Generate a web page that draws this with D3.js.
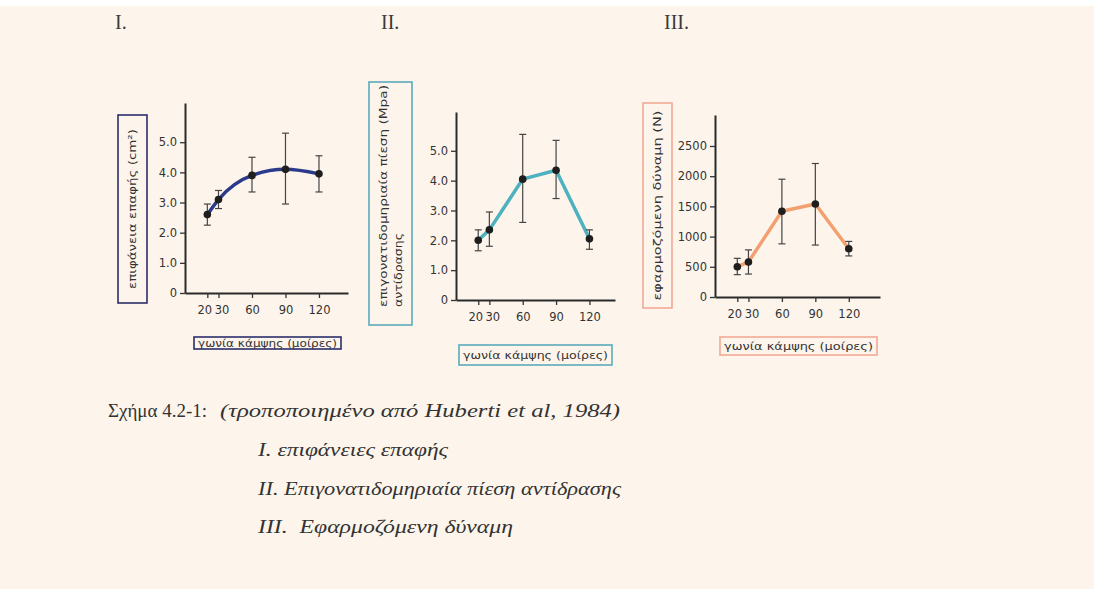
<!DOCTYPE html>
<html>
<head>
<meta charset="utf-8">
<script src="https://cdnjs.cloudflare.com/ajax/libs/d3/7.8.5/d3.min.js"></script>
<style>
  body { margin: 0; background: #fff; }
</style>
</head>
<body>
<div id="vis"></div>
<script>
// data (Huberti et al, 1984)
const angles = [20, 30, 60, 90, 120];

// I. contact area (cm2)
const areaMean = [2.6, 3.1, 3.9, 4.1, 3.95];
const areaLow  = [2.25, 2.8, 3.35, 2.95, 3.35];
const areaHigh = [2.95, 3.4, 4.5, 5.3, 4.55];

// II. patellofemoral pressure (Mpa)
const pressMean = [2.0, 2.35, 4.05, 4.35, 2.05];
const pressLow  = [1.65, 1.8, 2.6, 3.4, 1.7];
const pressHigh = [2.35, 2.95, 5.55, 5.35, 2.35];

// III. applied force (N)
const forceMean = [500, 580, 1420, 1540, 800];
const forceLow  = [370, 380, 880, 860, 680];
const forceHigh = [640, 780, 1950, 2210, 920];

const yTicksSmall = [0, 1, 2, 3, 4, 5];
const yTicksForce = [0, 500, 1000, 1500, 2000, 2500];

const xTitle = 'γωνία κάμψης (μοίρες)';
const captionHead = 'Σχήμα 4.2-1:';
const captionSource = '(τροποποιημένο από Huberti et al, 1984)';
const captionLines = ['I. επιφάνειες επαφής', 'II. Επιγονατιδομηριαία πίεση αντίδρασης', 'III.  Εφαρμοζόμενη δύναμη'];

const W = 1103, H = 589;

let svg = d3.select('#vis')
  .append('svg')
    .attr('width', W)
    .attr('height', H);

// paper background
svg.append('rect')
  .attr('x', 0).attr('y', 6)
  .attr('width', 1094).attr('height', H - 6)
  .attr('fill', '#fdf5ec');

const panels = [
  {
    num: 'I.', numX: 115,
    mean: areaMean, low: areaLow, high: areaHigh,
    yTicks: yTicksSmall, yMax: 6.3, fmt: d => d === 0 ? '0' : d3.format('.1f')(d),
    x0: 185, x1: 348, xMax: 146, y0: 293, yTop: 103,
    color: '#2c3a8c', box: '#2b2f6b', curve: d3.curveMonotoneX,
    yBox: [118, 115, 29, 188], yLabel: ['επιφάνεια επαφής (cm²)'], yLen: [160],
    xBox: [194, 337, 147, 12]
  },
  {
    num: 'II.', numX: 381,
    mean: pressMean, low: pressLow, high: pressHigh,
    yTicks: yTicksSmall, yMax: 6.3, fmt: d => d === 0 ? '0' : d3.format('.1f')(d),
    x0: 456, x1: 615, xMax: 143, y0: 300, yTop: 112,
    color: '#4db1c0', box: '#5aaabb', curve: d3.curveLinear,
    yBox: [369, 82, 43, 243], yLabel: ['επιγονατιδομηριαία πίεση (Mpa)', 'αντίδρασης'], yLen: [222, 74],
    xBox: [459, 345, 153, 20]
  },
  {
    num: 'III.', numX: 664,
    mean: forceMean, low: forceLow, high: forceHigh,
    yTicks: yTicksForce, yMax: 3013, fmt: d => String(d),
    x0: 715, x1: 880, xMax: 148, y0: 297, yTop: 115,
    color: '#f3a071', box: '#f0ab95', curve: d3.curveLinear,
    yBox: [643, 103, 29, 205], yLabel: ['εφαρμοζόμενη δύναμη (N)'], yLen: [190],
    xBox: [720, 337, 157, 18]
  }
];

panels.forEach(function(p) {
  let g = svg.append('g');

  // roman numeral
  g.append('text')
    .attr('x', p.numX).attr('y', 29)
    .style('font-family', 'Liberation Serif')
    .style('font-size', '20px')
    .attr('fill', '#3a3a3a')
    .text(p.num);

  let xScale = d3.scaleLinear().domain([0, p.xMax]).range([p.x0, p.x1]);
  let yScale = d3.scaleLinear().domain([0, p.yMax]).range([p.y0, p.yTop]);

  // y axis
  let yAxis = g.append('g')
    .attr('transform', `translate(${p.x0},0)`)
    .call(d3.axisLeft(yScale).tickValues(p.yTicks).tickFormat(p.fmt).tickSize(5).tickSizeOuter(0).tickPadding(3));

  // x axis
  let xAxis = g.append('g')
    .attr('transform', `translate(0,${p.y0})`)
    .call(d3.axisBottom(xScale).tickValues(angles).tickSize(5).tickSizeOuter(0).tickPadding(8));

  [yAxis, xAxis].forEach(function(a) {
    a.select('.domain').attr('stroke', '#2a2a2a').attr('stroke-width', 2);
    a.selectAll('.tick line').attr('stroke', '#333').attr('stroke-width', 1.3);
    a.selectAll('text')
      .style('font-family', 'DejaVu Sans')
      .style('font-size', '11.5px')
      .attr('fill', '#333');
  });
  // spread the crowded 20 / 30 labels a little
  xAxis.selectAll('.tick text').attr('dx', (d, i) => i === 0 ? -3 : (i === 1 ? 3 : 0));

  // line
  let pts = angles.map((a, i) => ({a: a, m: p.mean[i], lo: p.low[i], hi: p.high[i]}));
  let line = d3.line()
    .x(d => xScale(d.a))
    .y(d => yScale(d.m))
    .curve(p.curve);

  g.append('path')
    .attr('d', line(pts))
    .attr('fill', 'none')
    .attr('stroke', p.color)
    .attr('stroke-width', 3.5)
    .attr('stroke-linejoin', 'round');

  // error bars
  let eb = g.append('g').selectAll('g')
    .data(pts)
    .enter()
    .append('g')
      .attr('stroke', '#444')
      .attr('stroke-width', 1.2);
  eb.append('line')
    .attr('x1', d => xScale(d.a)).attr('x2', d => xScale(d.a))
    .attr('y1', d => yScale(d.lo)).attr('y2', d => yScale(d.hi));
  eb.append('line')
    .attr('x1', d => xScale(d.a) - 3.5).attr('x2', d => xScale(d.a) + 3.5)
    .attr('y1', d => yScale(d.hi)).attr('y2', d => yScale(d.hi));
  eb.append('line')
    .attr('x1', d => xScale(d.a) - 3.5).attr('x2', d => xScale(d.a) + 3.5)
    .attr('y1', d => yScale(d.lo)).attr('y2', d => yScale(d.lo));

  // points
  g.append('g').selectAll('circle')
    .data(pts)
    .enter()
    .append('circle')
      .attr('cx', d => xScale(d.a))
      .attr('cy', d => yScale(d.m))
      .attr('r', 3.8)
      .attr('fill', '#1e1e1e');

  // y label box
  let yb = p.yBox;
  g.append('rect')
    .attr('x', yb[0]).attr('y', yb[1]).attr('width', yb[2]).attr('height', yb[3])
    .attr('fill', 'none').attr('stroke', p.box).attr('stroke-width', 1.6);

  let nLines = p.yLabel.length;
  p.yLabel.forEach(function(t, i) {
    let cx = yb[0] + yb[2] * (i + 1) / (nLines + 1);
    let yStart = nLines === 1 ? yb[1] + yb[3] / 2 : yb[1] + yb[3] - 18;
    g.append('text')
      .attr('transform', `translate(${cx},${yStart}) rotate(-90)`)
      .attr('dy', '0.35em')
      .attr('text-anchor', nLines === 1 ? 'middle' : 'start')
      .attr('textLength', p.yLen[i])
      .attr('lengthAdjust', 'spacingAndGlyphs')
      .style('font-family', 'DejaVu Sans')
      .style('font-size', '11px')
      .attr('fill', '#333')
      .text(t);
  });

  // x label box
  let xb = p.xBox;
  g.append('rect')
    .attr('x', xb[0]).attr('y', xb[1]).attr('width', xb[2]).attr('height', xb[3])
    .attr('fill', 'none').attr('stroke', p.box).attr('stroke-width', 1.6);
  g.append('text')
    .attr('x', xb[0] + xb[2] / 2).attr('y', xb[1] + xb[3] / 2)
    .attr('dy', '0.35em')
    .attr('text-anchor', 'middle')
    .attr('textLength', xb[2] - 8)
    .attr('lengthAdjust', 'spacingAndGlyphs')
    .style('font-family', 'DejaVu Sans')
    .style('font-size', '11px')
    .attr('fill', '#333')
    .text(xTitle);
});

// caption
const capWidths = [190, 363, 255];

let cap = svg.append('g')
  .style('font-family', 'Liberation Serif')
  .attr('fill', '#333');

cap.append('text')
  .attr('x', 108).attr('y', 417)
  .style('font-size', '19px')
  .attr('textLength', 99)
  .attr('lengthAdjust', 'spacingAndGlyphs')
  .text(captionHead);
cap.append('text')
  .attr('x', 220).attr('y', 417)
  .style('font-size', '19px')
  .style('font-style', 'italic')
  .attr('textLength', 400)
  .attr('lengthAdjust', 'spacingAndGlyphs')
  .text(captionSource);

cap.selectAll('.capline')
  .data(captionLines)
  .enter()
  .append('text')
    .attr('class', 'capline')
    .attr('x', 258)
    .attr('y', (d, i) => 456 + i * 38.5)
    .style('font-size', '19px')
    .style('font-style', 'italic')
    .style('white-space', 'pre')
    .attr('textLength', (d, i) => capWidths[i])
    .attr('lengthAdjust', 'spacingAndGlyphs')
    .text(d => d);
</script>
</body>
</html>
